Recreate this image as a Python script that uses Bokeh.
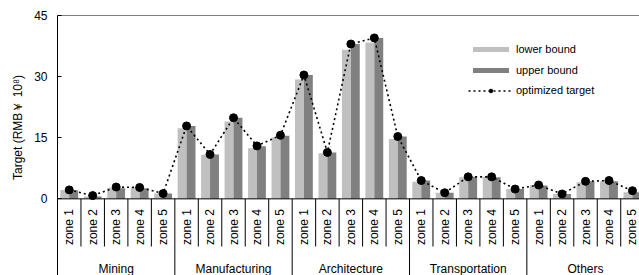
import numpy as np
from bokeh.plotting import figure
from bokeh.models import (ColumnDataSource, FixedTicker, Span, Legend,
                          LegendItem, Range1d)
from bokeh.transform import dodge
from bokeh.embed import file_html
from bokeh.resources import INLINE
from bokeh.core.properties import value

groups = ["Mining", "Manufacturing", "Architecture", "Transportation", "Others"]
zones = ["zone 1", "zone 2", "zone 3", "zone 4", "zone 5"]
lower = [2.2, 0.6, 2.7, 2.8, 1.3,
         17.3, 10.8, 19.0, 12.4, 15.1,
         29.3, 11.2, 36.6, 38.4, 14.7,
         4.2, 1.5, 5.3, 5.4, 2.4,
         3.3, 1.2, 4.1, 4.3, 1.6]
upper = [2.1, 0.6, 2.6, 2.6, 1.3,
         17.9, 10.9, 19.9, 12.9, 15.5,
         30.4, 11.4, 38.0, 39.5, 15.3,
         4.5, 1.5, 5.4, 5.3, 2.4,
         3.3, 1.2, 4.3, 4.3, 1.6]
target = [2.2, 0.8, 2.9, 2.8, 1.3,
          17.9, 10.9, 19.9, 13.0, 15.6,
          30.4, 11.4, 38.0, 39.5, 15.3,
          4.5, 1.5, 5.4, 5.4, 2.4,
          3.4, 1.2, 4.3, 4.5, 2.0]
y_ticks = [0, 15, 30, 45]
y_title = "Target (RMB￥ 10⁸)"

FONT = "Liberation Sans"
nz = len(zones)
n = len(groups) * nz
xc = np.arange(n) + 0.5
src = ColumnDataSource(dict(x=xc, lower=lower, upper=upper, target=target,
                            zone=zones * len(groups)))

YMIN, YMAX = -18.81, 45
p = figure(width=639, height=275, x_range=Range1d(0, 24.8),
           y_range=Range1d(YMIN, YMAX), output_backend="svg",
           toolbar_location=None, x_axis_type=None,
           min_border_left=57, min_border_right=0, min_border_top=15,
           min_border_bottom=0)
p.grid.visible = False
p.outline_line_color = None

ax = p.yaxis[0]
ax.ticker = FixedTicker(ticks=y_ticks)
ax.major_tick_in = 4
ax.major_tick_out = 0
ax.minor_tick_line_color = None
ax.axis_line_color = "black"
ax.major_tick_line_color = "black"
ax.major_label_standoff = 10
ax.major_label_text_font = FONT
ax.major_label_text_font_size = "12px"
ax.major_label_text_color = "black"
# leading em spaces lift the centred title to match the reference position
ax.axis_label = "\u2003\u2003\u2003" + y_title
ax.axis_label_standoff = 6
ax.axis_label_text_font = FONT
ax.axis_label_text_font_size = "12px"
ax.axis_label_text_font_style = "normal"
ax.axis_label_text_color = "black"

bw = 0.38
r_low = p.vbar(x=dodge("x", -0.19), top="lower", width=bw, bottom=0,
               fill_color="#c0c0c0", line_color=None, source=src)
r_up = p.vbar(x=dodge("x", 0.19), top="upper", width=bw, bottom=0,
              fill_color="#808080", line_color=None, source=src)
r_line = p.line("x", "target", line_color="black", line_width=1.6,
                line_dash="2 3", source=src)
r_dot = p.scatter("x", "target", size=8, color="black", source=src)

# axis lines
p.add_layout(Span(location=0, dimension="width", line_color="black", line_width=1))
p.add_layout(Span(location=YMAX, dimension="width", line_color="black", line_width=1))

# dividers
bounds = np.arange(1, n)
zb = [b for b in bounds if b % nz != 0]
gb = [b for b in bounds if b % nz == 0]
p.segment(x0=zb, y0=0, x1=zb, y1=-11.7, line_color="black", line_width=1)
p.segment(x0=gb, y0=0, x1=gb, y1=YMIN, line_color="black", line_width=1)

# zone labels
p.text(x="x", y=-2.5, text="zone", angle=np.pi / 2, text_align="right",
       text_baseline="middle", text_font=value(FONT), text_font_size="12px",
       text_color="black", source=src)

# group labels
gx = [i * nz + nz / 2 for i in range(len(groups))]
p.text(x=gx, y=-17.27, text=groups, text_align="center",
       text_baseline="alphabetic", text_font=value(FONT),
       text_font_size="12px", text_color="black")

common = dict(glyph_width=45, label_height=20, spacing=1, padding=0, margin=0,
              label_standoff=3, border_line_color=None,
              background_fill_alpha=0, label_text_font=FONT,
              label_text_font_size="11px", label_text_color="black")
legend1 = Legend(items=[LegendItem(label="lower bound", renderers=[r_low]),
                        LegendItem(label="upper bound", renderers=[r_up])],
                 location=(411, 195), glyph_height=6, **common)
legend2 = Legend(items=[LegendItem(label="optimized target", renderers=[r_line, r_dot])],
                 location=(411, 175), glyph_height=9, **common)
p.add_layout(legend1)
p.add_layout(legend2)

open("out.html", "w").write(file_html(p, INLINE))
